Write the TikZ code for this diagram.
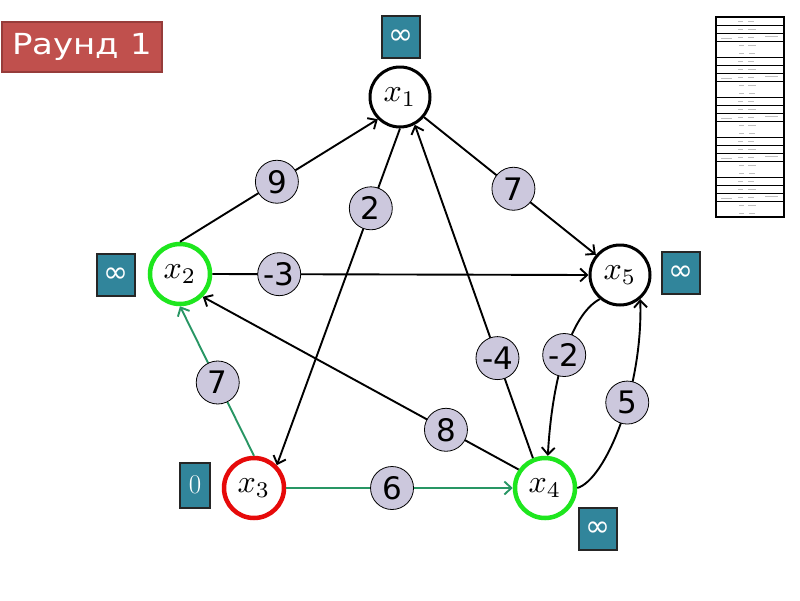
\documentclass[tikz,border=0pt]{standalone}
\usepackage{fontspec}
\usepackage{graphicx}
\newfontfamily\dejavu{DejaVu Sans}
\usetikzlibrary{arrows.meta}
\definecolor{boxteal}{RGB}{49,133,155}
\definecolor{lav}{RGB}{204,200,221}
\definecolor{titlered}{RGB}{192,80,77}
\definecolor{titleborder}{RGB}{150,60,58}
\definecolor{vgreen}{RGB}{30,230,30}
\definecolor{vred}{RGB}{230,10,10}
\definecolor{egreen}{RGB}{40,150,100}
\newcommand{\vlabel}[1]{\scalebox{3.2}{$x_{#1}$}}
\begin{document}
\begin{tikzpicture}[x=1pt,y=-1pt,
  vert/.style={circle,draw=black,line width=3pt,minimum size=60pt,inner sep=0pt,fill=white},
  greenvert/.style={vert,draw=vgreen,line width=4.5pt},
  redvert/.style={vert,draw=vred,line width=4.5pt},
  wl/.style={circle,fill=lav,draw=black,line width=0.8pt,minimum size=43pt,inner sep=0pt,
    font=\dejavu\fontsize{31}{32}\selectfont},
  edge/.style={draw=black,line width=1.9pt,-{Straight Barb[length=7pt,width=13pt,line width=1.9pt]}},
  gedge/.style={edge,draw=egreen},
  infbox/.style={rectangle,fill=boxteal,draw=black!85,line width=2pt,minimum width=38pt,
    minimum height=42pt,inner sep=0pt,text=white,font=\dejavu\fontsize{30}{30}\selectfont},
  zerobox/.style={infbox,minimum width=30pt,minimum height=45pt,font=\rmfamily\fontsize{27}{28}\selectfont},
  titlebox/.style={rectangle,fill=titlered,draw=titleborder,line width=1.5pt,minimum width=160pt,
    minimum height=50pt,inner sep=0pt,text=white,font=\dejavu\fontsize{29}{30}\selectfont},
  tabline/.style={line width=1pt,draw=black},
  tabmark/.style={line width=1pt,draw=gray!50}
]
\useasboundingbox[fill=white] (0,0) rectangle (800,600);

% title
\node[titlebox] (title) at (82,47) {\scalebox{1.17}[1]{Раунд 1}};

% vertices
\node[vert] (x1) at (400,97) {\vlabel{1}};
\node[greenvert] (x2) at (180,274) {\vlabel{2}};
\node[redvert] (x3) at (254,488) {\vlabel{3}};
\node[greenvert] (x4) at (545,488) {\vlabel{4}};
\node[vert] (x5) at (620,275) {\vlabel{5}};

% distance boxes
\node[infbox] (b1) at (401,37) {∞};
\node[infbox] (b2) at (116,275) {∞};
\node[infbox] (b5) at (681,273) {∞};
\node[infbox] (b4) at (598,529) {∞};
\node[zerobox] (b3) at (195,485) {0};

% edges
\draw[edge] (x2.north) -- node[wl,pos=0.49] (w9) {9} (x1.225);
\draw[edge] (x1.-90) -- node[wl,pos=0.237] (w2) {2} (x3.45);
\draw[edge] (x1.-40) -- node[wl,pos=0.52] (w7a) {7} (x5.140);
\draw[edge] (x2.east) -- node[wl,pos=0.178] (w3) {-3} (x5.west);
\draw[edge] (x4.112) -- node[wl,pos=0.30] (w4) {-4} (x1.-62);
\draw[edge] (x4.145) -- node[wl,pos=0.23] (w8) {8} (x2.-45);
\draw[gedge] (x3.north) -- node[wl,pos=0.49] (w7b) {7} (x2.south);
\draw[gedge] (x3.east) -- node[wl,pos=0.467] (w6) {6} (x4.west);
\draw[edge] (x5.230) .. controls (570,315) and (552,380) .. node[wl,pos=0.5] (w2b) {-2} (x4.85);
\draw[edge] (x4.east) .. controls (605,480) and (643,390) .. node[wl,pos=0.6] (w5) {5} (x5.-50);

% table (unreadable tiny content)
\draw[line width=1.5pt] (716,17) rectangle (784,217);
\foreach \k in {0,...,4}{
  \pgfmathsetmacro\b{17+40*\k}
  \draw[tabline] (716,\b+8) -- (784,\b+8);
  \draw[tabline] (716,\b+16) -- (784,\b+16);
  \draw[tabline] (716,\b+24) -- (784,\b+24);
  \ifnum\k<4 \draw[tabline] (716,\b+40) -- (784,\b+40); \fi
  \draw[tabmark] (738,\b+4.5) -- (743,\b+4.5) (748,\b+4.5) -- (754,\b+4.5);
  \draw[tabmark] (738,\b+12.5) -- (743,\b+12.5) (748,\b+12.5) -- (756,\b+12.5);
  \draw[tabmark] (721,\b+21) -- (732,\b+21) (738,\b+20.5) -- (743,\b+20.5) (748,\b+20) -- (754,\b+20) (765,\b+19) -- (778,\b+19);
  \draw[tabmark] (739,\b+28.5) -- (744,\b+28.5) (748,\b+28.5) -- (756,\b+28.5);
  \draw[tabmark] (739,\b+36) -- (744,\b+36) (749,\b+36) -- (755,\b+36);
}
\end{tikzpicture}
\end{document}
